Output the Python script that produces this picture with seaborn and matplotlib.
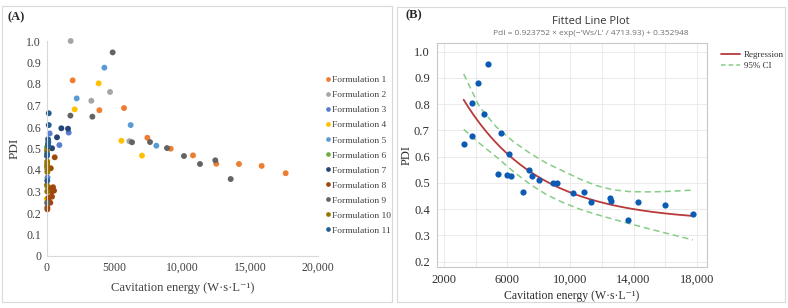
import numpy as np
import pandas as pd
import matplotlib
matplotlib.use("Agg")
import matplotlib.pyplot as plt
from matplotlib.patches import Rectangle
from matplotlib.lines import Line2D
from matplotlib.ticker import FixedLocator
import seaborn as sns

# ---------------- Data: panel A ----------------
formulations = ["Formulation %d" % i for i in range(1, 12)]
f1_x = [1914, 3882, 5700, 7420, 9139, 10785, 12503, 14175, 15847, 17617]
f1_y = [0.817, 0.678, 0.688, 0.550, 0.499, 0.468, 0.429, 0.428, 0.419, 0.385]
f2_x = [30, 1768, 3290, 4668, 6094]
f2_y = [0.41, 1.000, 0.722, 0.763, 0.534]
f3_x = [60, 220, 935, 1622]
f3_y = [0.365, 0.570, 0.516, 0.574]
f4_x = [10, 2061, 3830, 5504, 7026]
f4_y = [0.265, 0.682, 0.803, 0.536, 0.467]
f5_x = [2211, 4250, 6190, 8083]
f5_y = [0.733, 0.876, 0.609, 0.513]
f6_x = [15, 35, 60]
f6_y = [0.505, 0.415, 0.320]
f7_x = [395, 760, 1081, 1573]
f7_y = [0.501, 0.552, 0.594, 0.592]
f8_x = [466, 297, 540, 360, 172, 393, 98, 268, 50, 50, 300, 590, 120]
f8_y = [0.320, 0.315, 0.304, 0.300, 0.273, 0.276, 0.253, 0.248, 0.226, 0.217, 0.408, 0.459, 0.270]
f9_x = [30, 1746, 3366, 4862, 6290, 7616, 8868, 10120, 11300, 12430, 13562]
f9_y = [0.247, 0.653, 0.648, 0.947, 0.529, 0.530, 0.502, 0.465, 0.428, 0.445, 0.358]
f10_x = [20, 40, 30, 60, 50, 20, 40, 35]
f10_y = [0.490, 0.440, 0.420, 0.400, 0.390, 0.330, 0.300, 0.430]
f11_x = [150, 150, 100, 120, 90, 110, 30, 20, 40]
f11_y = [0.664, 0.609, 0.543, 0.530, 0.520, 0.510, 0.475, 0.465, 0.350]

colors_a = ["#ED7D31", "#A5A5A5", "#5A7FD0", "#FFC000", "#5B9BD5", "#70AD47",
            "#264478", "#9E480E", "#636363", "#997300", "#255E91"]

xs = [f1_x, f2_x, f3_x, f4_x, f5_x, f6_x, f7_x, f8_x, f9_x, f10_x, f11_x]
ys = [f1_y, f2_y, f3_y, f4_y, f5_y, f6_y, f7_y, f8_y, f9_y, f10_y, f11_y]
rows = []
for name, xx, yy in zip(formulations, xs, ys):
    for a, b in zip(xx, yy):
        rows.append((name, a, b))
df_a = pd.DataFrame(rows, columns=["Formulation", "Energy", "PDI"])

# ---------------- Data: panel B ----------------
b_x = [3245, 3750, 3772, 4152, 4553, 4764, 5437, 5606, 6007, 6114, 6220, 7000, 7380,
       7570, 7994, 8880, 9133, 10146, 10842, 11323, 12487, 12551, 13665, 14259, 15968, 17760]
b_y = [0.650, 0.806, 0.677, 0.882, 0.764, 0.952, 0.534, 0.689, 0.530, 0.610, 0.526, 0.465, 0.550,
       0.528, 0.511, 0.501, 0.498, 0.463, 0.467, 0.427, 0.443, 0.430, 0.357, 0.426, 0.417, 0.383]
fit_a, fit_tau, fit_c = 0.923752, 4713.93, 0.352948
ci_x = [3250, 4250, 5300, 6400, 7450, 8500, 9550, 10600, 11650, 12700, 13750, 14800, 15850, 16900, 17750]
ci_upper = [0.915, 0.790, 0.714, 0.657, 0.613, 0.575, 0.545, 0.515, 0.490, 0.474, 0.467, 0.466, 0.467, 0.470, 0.473]
ci_lower = [0.704, 0.651, 0.600, 0.543, 0.495, 0.455, 0.425, 0.400, 0.380, 0.362, 0.345, 0.328, 0.312, 0.296, 0.283]

# ---------------- Figure ----------------
sns.set_theme(style="white")
plt.rcParams["font.family"] = ["Liberation Serif", "DejaVu Serif"]
W, H = 788, 308
fig = plt.figure(figsize=(W / 100, H / 100), dpi=100)
fig.patch.set_facecolor("white")

def fx(px):
    return px / W

def fy(py):
    return 1 - py / H

# panel borders
fig.patches.append(Rectangle((fx(2), fy(302)), fx(390), (300 - 4) / H, transform=fig.transFigure,
                             fill=False, edgecolor="#d9d9d9", lw=0.8))
fig.patches.append(Rectangle((fx(397), fy(302)), fx(388), (302 - 7) / H, transform=fig.transFigure,
                             fill=False, edgecolor="#d9d9d9", lw=0.8))

# ---------- Panel A ----------
axA = fig.add_axes([fx(46.7), fy(256), fx(318 - 46.7), (256 - 41) / H])
sns.scatterplot(data=df_a, x="Energy", y="PDI", hue="Formulation", palette=colors_a,
                hue_order=formulations, s=18, linewidth=0, ax=axA, clip_on=False, legend=False)
axA.set_xlim(0, 20000)
axA.set_ylim(0, 1.0)
axA.set_xticks([0, 5000, 10000, 15000, 20000])
axA.set_xticklabels(["0", "5000", "10,000", "15,000", "20,000"])
yt = np.round(np.arange(0, 1.01, 0.1), 1)
axA.set_yticks(yt)
axA.set_yticklabels(["0" if v == 0 else "%.1f" % v for v in yt])
axA.tick_params(axis="both", length=0, labelsize=8.5, colors="#404040", pad=4)
for s in ["top", "right"]:
    axA.spines[s].set_visible(False)
for s in ["left", "bottom"]:
    axA.spines[s].set_color("#d9d9d9")
    axA.spines[s].set_linewidth(0.8)
axA.set_xlabel("Cavitation energy (W\u00b7s\u00b7L\u207b\u00b9)", fontsize=9, color="#404040", labelpad=6)
axA.set_ylabel("PDI", fontsize=9.5, color="#404040", labelpad=4)
axA.grid(False)
handles = [Line2D([], [], marker="o", ls="none", color=c, markersize=3.4, markeredgewidth=0)
           for c in colors_a]
axA.legend(handles, formulations, loc="upper left", bbox_to_anchor=(fx(320), fy(72)),
           bbox_transform=fig.transFigure, frameon=False, fontsize=6.8, handletextpad=0.1,
           handlelength=0.8, labelspacing=0.68, borderaxespad=0, labelcolor="#404040")
fig.text(fx(7), fy(17), "(A)", fontsize=9, fontweight="bold", va="center", ha="left")

# ---------- Panel B ----------
axB = fig.add_axes([fx(436.7), fy(266.7), fx(707.3 - 436.7), (266.7 - 43.3) / H])
axB.set_facecolor("white")
xfit = np.linspace(min(b_x), max(b_x), 200)
yfit = fit_a * np.exp(-xfit / fit_tau) + fit_c
df_fit = pd.DataFrame({"x": xfit, "y": yfit})
df_ci = pd.DataFrame({"x": ci_x, "up": ci_upper, "lo": ci_lower})
sns.lineplot(data=df_ci, x="x", y="up", ax=axB, color="#88CC88", lw=1.1, dashes=False,
             linestyle=(0, (4, 2.5)))
sns.lineplot(data=df_ci, x="x", y="lo", ax=axB, color="#88CC88", lw=1.1, dashes=False,
             linestyle=(0, (4, 2.5)))
sns.lineplot(data=df_fit, x="x", y="y", ax=axB, color="#B83A3A", lw=1.3)
sns.scatterplot(x=b_x, y=b_y, ax=axB, color="#0B5BB5", s=20, linewidth=0, zorder=5)
axB.set_xlim(1540, 18665)
axB.set_ylim(0.181, 1.032)
axB.xaxis.set_major_locator(FixedLocator([2000, 6000, 10000, 14000, 18000]))
axB.set_xticklabels(["2000", "6000", "10,000", "14,000", "18,000"])
axB.xaxis.set_minor_locator(FixedLocator([4000, 8000, 12000, 16000]))
ytb = np.round(np.arange(0.2, 1.01, 0.1), 1)
axB.set_yticks(ytb)
axB.set_yticklabels(["%.1f" % v for v in ytb])
axB.grid(True, which="both", color="#e8e8e8", lw=0.6)
axB.set_axisbelow(True)
for s in axB.spines.values():
    s.set_color("#c8c8c8")
    s.set_linewidth(0.8)
axB.tick_params(axis="both", which="both", direction="out", length=3, width=0.6, color="#b0b0b0",
                labelsize=9, labelcolor="#303030", pad=2)
axB.tick_params(axis="x", which="minor", length=3)
axB.set_xlabel("Cavitation energy (W\u00b7s\u00b7L\u207b\u00b9)", fontsize=8.5, color="#303030", labelpad=3)
axB.set_ylabel("PDI", fontsize=9, color="#303030", labelpad=1)
fig.text(fx(591), fy(21), "Fitted Line Plot", fontsize=8, color="#333333", ha="center", va="center",
         family=["Open Sans", "DejaVu Sans"])
fig.text(fx(591), fy(33.5), "PdI = 0.923752 \u00d7 exp(\u2212'Ws/L' / 4713.93) + 0.352948", fontsize=6,
         color="#707070", ha="center", va="center", family=["Open Sans", "DejaVu Sans"])
fig.text(fx(405), fy(15), "(B)", fontsize=9, fontweight="bold", va="center", ha="left")
lh = [Line2D([], [], color="#B83A3A", lw=1.3),
      Line2D([], [], color="#88CC88", lw=1.1, linestyle=(0, (3, 2)))]
axB.legend(lh, ["Regression", "95% CI"], loc="upper left", bbox_to_anchor=(fx(717), fy(47)),
           bbox_transform=fig.transFigure, frameon=False, fontsize=6.5, handlelength=2.2,
           handletextpad=0.4, labelspacing=0.3, borderaxespad=0, labelcolor="#303030")

fig.savefig("out.png", dpi=100, facecolor="white")
